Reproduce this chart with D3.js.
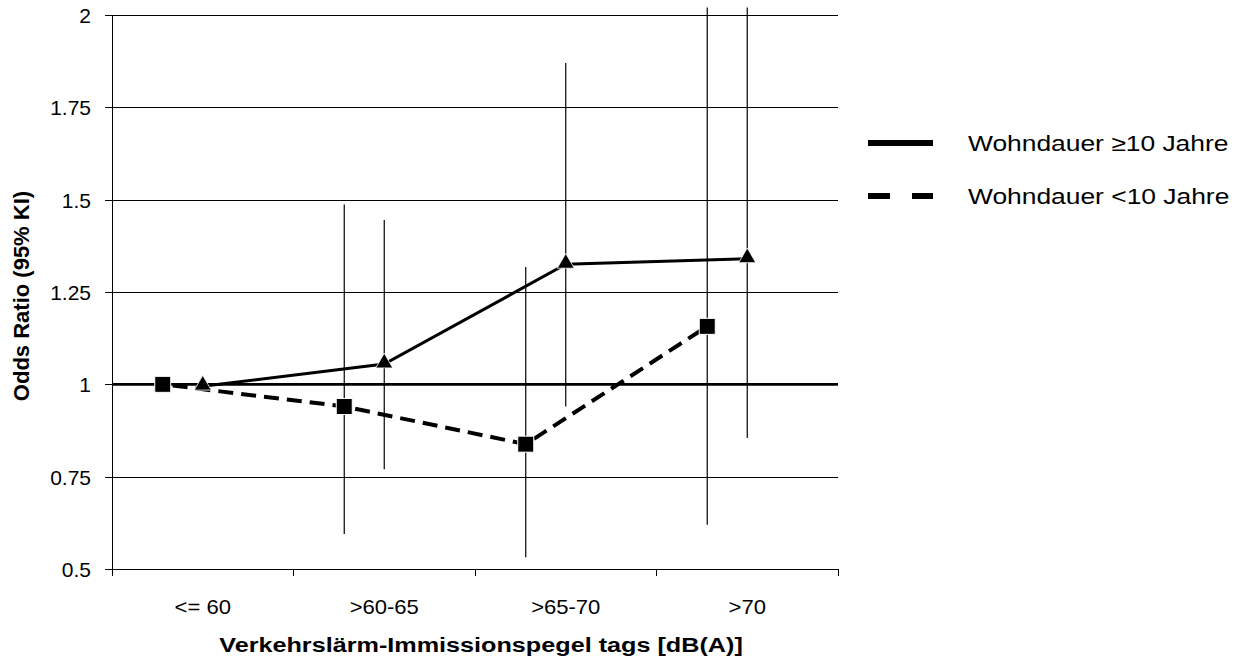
<!DOCTYPE html>
<html>
<head>
<meta charset="utf-8">
<script src="https://cdn.jsdelivr.net/npm/d3@7"></script>
<style>
  html, body { margin: 0; padding: 0; background: #fff; }
  svg { display: block; font-family: "Liberation Sans", Arial, sans-serif; }
</style>
</head>
<body>
<svg id="chart" width="1248" height="659"></svg>
<script>
// ---- data ----
const categories = ["<= 60", ">60-65", ">65-70", ">70"];
const seriesNames = ["Wohndauer \u226510 Jahre", "Wohndauer <10 Jahre"];
// Wohndauer >= 10 Jahre (triangles, solid line)
const longOR = [0.995, 1.055, 1.325, 1.34];
const longLo = [null, 0.77, 0.94, 0.855];
const longHi = [null, 1.445, 1.87, 2.02];
// Wohndauer < 10 Jahre (squares, dashed line)
const shortOR = [1.0, 0.94, 0.838, 1.157];
const shortLo = [null, 0.595, 0.532, 0.62];
const shortHi = [null, 1.487, 1.318, 2.02];
const yTicks = [0.5, 0.75, 1, 1.25, 1.5, 1.75, 2];
const yTickLabels = ["0.5", "0.75", "1", "1.25", "1.5", "1.75", "2"];
const refValue = 1;
const xTitle = "Verkehrslärm-Immissionspegel tags [dB(A)]";
const yTitle = "Odds Ratio (95% KI)";

// ---- layout ----
const svg = d3.select("#chart");
const plot = { left: 112, right: 838, top: 15, bottom: 569 };
const x = d3.scaleBand().domain(categories).range([plot.left, plot.right]).padding(0);
const y = d3.scaleLinear().domain([0.5, 2]).range([plot.bottom, plot.top]);
const bw = x.bandwidth();
const offLong = 0, offShort = -40;
const cx = (c, off) => x(c) + bw / 2 + off;

// gridlines
const grid = svg.append("g").attr("transform", `translate(${plot.left},0)`)
  .call(d3.axisLeft(y).tickValues(yTicks).tickSize(-(plot.right - plot.left)).tickFormat(""));
grid.select(".domain").remove();
grid.selectAll("line").attr("stroke", "#000").attr("stroke-width", 1).attr("shape-rendering", "crispEdges");

// y axis
const yAxis = svg.append("g").attr("transform", `translate(${plot.left},0)`)
  .call(d3.axisLeft(y).tickValues(yTicks).tickSize(7).tickPadding(0)
    .tickFormat((d, i) => yTickLabels[i]));
yAxis.select(".domain").attr("stroke", "#000").attr("stroke-width", 1.2).attr("shape-rendering", "crispEdges");
yAxis.selectAll(".tick line").attr("stroke", "#000").attr("shape-rendering", "crispEdges");
yAxis.selectAll(".tick text").remove();
yAxis.selectAll(".tick").append("g").attr("transform", "translate(-21,0)")
  .append("text")
  .attr("text-anchor", "end").attr("dy", "0.36em")
  .attr("font-size", 21).attr("fill", "#000")
  .text((d, i) => yTickLabels[i]);

// x axis
const xAxis = svg.append("g").attr("transform", `translate(0,${plot.bottom})`)
  .call(d3.axisBottom(x).tickSize(0).tickFormat(""));
xAxis.select(".domain").attr("stroke", "#000").attr("stroke-width", 1.2);
const bounds = categories.map(c => x(c)).concat([plot.right]);
xAxis.selectAll(".bnd").data(bounds).enter().append("line")
  .attr("x1", d => d).attr("x2", d => d).attr("y1", 0).attr("y2", 7)
  .attr("stroke", "#000").attr("shape-rendering", "crispEdges");
xAxis.selectAll(".xl").data(categories).enter().append("g")
  .attr("transform", d => `translate(${x(d) + bw / 2},45)`)
  .append("text").attr("transform", "scale(1.05,1)")
  .attr("text-anchor", "middle").attr("font-size", 21).attr("fill", "#000")
  .text(d => d);

// axis titles
svg.append("g").attr("transform", `translate(${(plot.left + plot.right) / 2 + 6},652)`)
  .append("text").attr("transform", "scale(1.2,1)")
  .attr("text-anchor", "middle").attr("font-size", 21).attr("font-weight", "bold")
  .text(xTitle);
svg.append("text")
  .attr("transform", `translate(29,${(plot.top + plot.bottom) / 2 + 4}) rotate(-90)`)
  .attr("text-anchor", "middle").attr("font-size", 22).attr("font-weight", "bold")
  .text(yTitle);

// reference line at 1
svg.append("line")
  .attr("x1", plot.left).attr("x2", plot.right)
  .attr("y1", y(refValue)).attr("y2", y(refValue))
  .attr("stroke", "#000").attr("stroke-width", 2.8);

// error bars
function errBars(lo, hi, off) {
  const d = categories.map((c, i) => ({ c, lo: lo[i], hi: hi[i] })).filter(e => e.lo != null);
  svg.append("g").selectAll("line").data(d).enter().append("line")
    .attr("x1", e => cx(e.c, off)).attr("x2", e => cx(e.c, off))
    .attr("y1", e => y(e.hi)).attr("y2", e => y(e.lo))
    .attr("stroke", "#000").attr("stroke-width", 1.2);
}
errBars(shortLo, shortHi, offShort);
errBars(longLo, longHi, offLong);

// series lines
const line = off => d3.line().x(d => cx(d.c, off)).y(d => y(d.v));
const longData = categories.map((c, i) => ({ c, v: longOR[i] }));
const shortData = categories.map((c, i) => ({ c, v: shortOR[i] }));
svg.append("path").datum(shortData).attr("d", line(offShort))
  .attr("fill", "none").attr("stroke", "#000").attr("stroke-width", 4)
  .attr("stroke-dasharray", "15,8").attr("stroke-dashoffset", -10);
svg.append("path").datum(longData).attr("d", line(offLong))
  .attr("fill", "none").attr("stroke", "#000").attr("stroke-width", 3);

// markers
svg.append("g").selectAll("rect").data(shortData).enter().append("rect")
  .attr("x", d => cx(d.c, offShort) - 8).attr("y", d => y(d.v) - 8)
  .attr("width", 16).attr("height", 16).attr("fill", "#000")
  .attr("stroke", "#fff").attr("stroke-width", 1);
const tri = d3.symbol().type(d3.symbolTriangle).size(125);
svg.append("g").selectAll("path").data(longData).enter().append("path")
  .attr("d", tri)
  .attr("transform", d => `translate(${cx(d.c, offLong)},${y(d.v) - 1})`)
  .attr("fill", "#000").attr("stroke", "#fff").attr("stroke-width", 0.8);

// legend
const leg = svg.append("g");
const legY = [143, 196];
leg.append("line").attr("x1", 868).attr("x2", 933).attr("y1", legY[0]).attr("y2", legY[0])
  .attr("stroke", "#000").attr("stroke-width", 6);
leg.append("line").attr("x1", 868).attr("x2", 933).attr("y1", legY[1]).attr("y2", legY[1])
  .attr("stroke", "#000").attr("stroke-width", 6).attr("stroke-dasharray", "22,22");
leg.selectAll(".lt").data(seriesNames).enter().append("g")
  .attr("transform", (d, i) => `translate(968,${legY[i]})`)
  .append("text").attr("transform", "scale(1.2,1)")
  .attr("dy", "0.36em").attr("font-size", 22).attr("fill", "#000")
  .text(d => d);
</script>
</body>
</html>
